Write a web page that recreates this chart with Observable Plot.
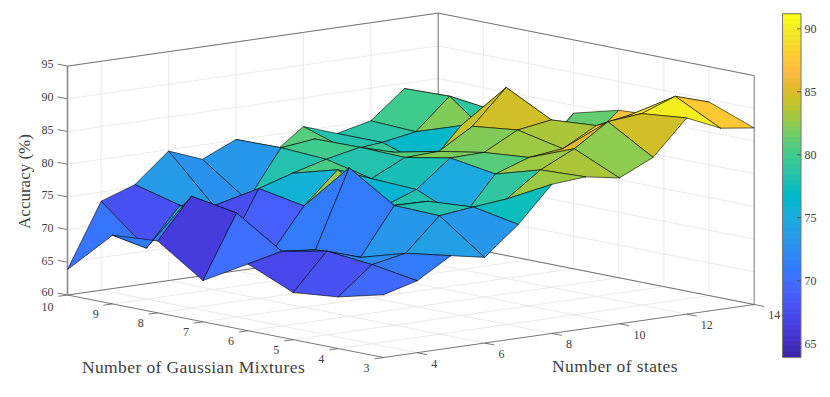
<!DOCTYPE html>
<html>
<head>
<meta charset="utf-8">
<style>
html,body{margin:0;padding:0;background:#fff;overflow:hidden}
svg{display:block}
.lab text,text.lab,.lab{letter-spacing:.4px}
</style>
<script src="https://cdn.jsdelivr.net/npm/d3@7"></script>
<script src="https://cdn.jsdelivr.net/npm/@observablehq/plot@0.6"></script>
</head>
<body>
<div id="chart"></div>
<script>
// Accuracy (%): one array per number of Gaussian mixtures, one value per state count.
const states = [3,4,5,6,7,8,9,10,11,12,13,14];
const accG10 = [63.9,73.6,75.4,79.8,77.8,80.1,76.8,80.6,78.8,80.0,84.2,80.1];
const accG9  = [70.5,67.8,73.6,72.8,72.9,80.2,80.8,78.3,78.8,79.7,84.4,82.0];
const accG8  = [71.0,77.1,67.5,76.8,78.4,79.8,80.9,79.4,76.5,82.0,79.0,74.0];
const accG7  = [66.3,75.9,68.8,75.5,80.3,78.2,80.7,80.9,84.0,89.2,78.5,83.8];
const accG6  = [70.2,71.4,70.9,82.7,76.0,77.9,82.0,82.1,84.8,85.6,81.0,85.6];
const accG5  = [67.2,72.8,71.1,78.3,78.2,74.9,80.9,82.7,83.3,86.1,87.0,86.0];
const accG4  = [67.9,72.1,73.1,78.1,78.7,79.2,82.9,85.4,88.8,89.3,91.2,89.6];
const accG3  = [69.6,71.0,74.1,73.1,77.4,82.8,83.2,82.3,84.7,90.0,87.7,87.0];
const mixtures = [3,4,5,6,7,8,9,10];
const accByMixture = [accG3,accG4,accG5,accG6,accG7,accG8,accG9,accG10];

const zTicks = [60,65,70,75,80,85,90,95];
const stateTicks = [4,6,8,10,12,14];
const mixtureTicks = [3,4,5,6,7,8,9,10];
const barTicks = [65,70,75,80,85,90];
const colorDomain = [63.9,91.2];
const parula = [[.2422,.1504,.6603],[.2504,.165,.7076],[.2578,.1818,.7511],[.2647,.1978,.7952],[.2706,.2147,.8364],[.2751,.2342,.871],[.2783,.2559,.8991],[.2803,.2782,.9221],[.2813,.3006,.9414],[.281,.3228,.9579],[.2795,.3447,.9717],[.276,.3667,.9829],[.2699,.3892,.9906],[.2602,.4123,.9952],[.244,.4358,.9988],[.2206,.4603,.9973],[.1963,.4847,.9892],[.1834,.5074,.9798],[.1786,.5289,.9682],[.1764,.5499,.952],[.1687,.5703,.9359],[.154,.5902,.9218],[.146,.6091,.9079],[.138,.6276,.8973],[.1248,.6459,.8883],[.1113,.6635,.8763],[.0952,.6798,.8598],[.0689,.6948,.8394],[.0297,.7082,.8163],[.0036,.7203,.7917],[.0067,.7312,.766],[.0433,.7411,.7394],[.0964,.75,.712],[.1408,.7584,.6842],[.1717,.767,.6554],[.1938,.7758,.6251],[.2161,.7843,.5923],[.247,.7918,.5567],[.2906,.7973,.5188],[.3406,.8008,.4789],[.3909,.8029,.4354],[.4456,.8024,.3909],[.5044,.7993,.348],[.5616,.7942,.3045],[.6174,.7876,.2612],[.672,.7793,.2227],[.7242,.7698,.191],[.7738,.7598,.1646],[.8203,.7498,.1535],[.8634,.7406,.1596],[.9035,.733,.1774],[.9393,.7288,.21],[.9728,.7298,.2394],[.9956,.7434,.2371],[.997,.7659,.2199],[.9952,.7893,.2028],[.9892,.8136,.1885],[.9786,.8386,.1766],[.9676,.8639,.1643],[.961,.889,.1537],[.9597,.9135,.1423],[.9628,.9373,.1265],[.9691,.9606,.1064],[.9769,.9839,.0805]]
  .map(([r,g,b]) => d3.rgb(r*255,g*255,b*255).formatHex());
const colorAt = t => parula[Math.max(0,Math.min(63,Math.floor(t*64)))];

// Orthographic view of the 3-D box
const sMin=3,sMax=14,gMin=3,gMax=10,zMin=60,zMax=95;
const px=(s,g)=>67+33.7*(s-3)+45.14*(10-g);
const py=(s,g,z)=>294.5-4.818*(s-3)+8.93*(10-g)-(z-60)*6.54;
const P=(s,g,z)=>({x:px(s,g),y:py(s,g,z)});
const seg=(a,b)=>({x1:a.x,y1:a.y,x2:b.x,y2:b.y});

// Faces back to front, coloured by their lowest-index corner
const acc=(si,gi)=>accByMixture[gi][si];
const faces=[];
for(let si=states.length-2;si>=0;si--){
  for(let gi=mixtures.length-2;gi>=0;gi--){
    const id=si+"-"+gi, c=acc(si,gi);
    [[si,gi],[si+1,gi],[si+1,gi+1],[si,gi+1],[si,gi]].forEach(([a,b])=>{
      faces.push({...P(states[a],mixtures[b],acc(a,b)),id,c});
    });
  }
}

// Grid lines
const grid=[];
zTicks.forEach(z=>{
  grid.push(seg(P(sMin,gMax,z),P(sMax,gMax,z)));
  grid.push(seg(P(sMax,gMax,z),P(sMax,gMin,z)));
});
stateTicks.forEach(s=>{
  grid.push(seg(P(s,gMax,zMin),P(s,gMax,zMax)));
  grid.push(seg(P(s,gMax,zMin),P(s,gMin,zMin)));
});
mixtureTicks.slice(1,-1).forEach(g=>{
  grid.push(seg(P(sMax,g,zMin),P(sMax,g,zMax)));
  grid.push(seg(P(sMin,g,zMin),P(sMax,g,zMin)));
});

// Box and ticks
const box=[
  seg(P(sMin,gMax,zMin),P(sMin,gMin,zMin)),
  seg(P(sMin,gMin,zMin),P(sMax,gMin,zMin)),
  seg(P(sMin,gMax,zMin),P(sMax,gMax,zMin)),
  seg(P(sMax,gMax,zMin),P(sMax,gMin,zMin)),
  seg(P(sMax,gMax,zMin),P(sMax,gMax,zMax)),
  seg(P(sMax,gMin,zMin),P(sMax,gMin,zMax)),
  seg(P(sMin,gMax,zMax),P(sMax,gMax,zMax)),
  seg(P(sMax,gMax,zMax),P(sMax,gMin,zMax)),
  ...zTicks.map(z=>seg(P(sMin,gMax,z),P(sMin,gMax+0.22,z))),
  ...stateTicks.map(s=>seg(P(s,gMin,zMin),P(s,gMin-0.22,zMin))),
  ...mixtureTicks.map(g=>seg(P(sMin,g,zMin),P(sMin-0.27,g,zMin)))
];
const leftAxis=[seg(P(sMin,gMax,zMin),P(sMin,gMax,zMax))];

const zLabels=zTicks.map(z=>{const p=P(sMin,gMax,z);return {x:p.x-14,y:p.y-(z==60?2.5:1.5),t:String(z)};});
const floorLabels=[
  ...stateTicks.map(s=>{const p=P(s,gMin,zMin);return {x:p.x+(s>=10?20:17),y:p.y+11,t:String(s)};}),
  ...mixtureTicks.map(g=>{const p=P(sMin,g,zMin);return {x:p.x-(g==10?20:17),y:p.y+(g==10?12:10.4),t:String(g)};})
];

// Colour bar
const barY=v=>28.3+(90-v)*12.6, barL=782, barR=800.5;
const [cLo,cHi]=colorDomain;
const barCells=d3.range(64).map(i=>({
  v1:cLo+(cHi-cLo)*i/64, v2:cLo+(cHi-cLo)*(i+1)/64, c:cLo+(cHi-cLo)*(i+.5)/64
}));
const barFrame=[
  {x1:barL,y1:barY(cHi),x2:barR,y2:barY(cHi)},{x1:barL,y1:barY(cLo),x2:barR,y2:barY(cLo)},
  {x1:barL,y1:barY(cHi),x2:barL,y2:barY(cLo)},{x1:barR,y1:barY(cHi),x2:barR,y2:barY(cLo)}
];
const barTickSegs=barTicks.map(v=>({x1:barR-4,y1:barY(v),x2:barR,y2:barY(v)}));

const serif='"Liberation Serif", serif', ink="#404040";
const plot=Plot.plot({
  width:830,height:397,margin:0,
  style:{background:"#fff",fontFamily:serif},
  x:{domain:[0,830],range:[0,830],axis:null},
  y:{domain:[0,397],range:[0,397],axis:null},
  color:{type:"linear",domain:colorDomain,interpolate:colorAt},
  marks:[
    Plot.link(grid,{x1:"x1",y1:"y1",x2:"x2",y2:"y2",stroke:"#e4e4e4",strokeWidth:0.8}),
    Plot.link(box,{x1:"x1",y1:"y1",x2:"x2",y2:"y2",stroke:"#555",strokeWidth:0.8}),
    Plot.link(leftAxis,{x1:"x1",y1:"y1",x2:"x2",y2:"y2",stroke:"#8a8a8a",strokeWidth:1.6}),
    Plot.line(faces,{x:"x",y:"y",z:"id",fill:"c",stroke:"#000",strokeWidth:0.7,strokeOpacity:0.85,strokeLinejoin:"round"}),
    Plot.text(zLabels,{x:"x",y:"y",text:"t",textAnchor:"end",fontSize:12,fill:ink}),
    Plot.text(floorLabels,{x:"x",y:"y",text:"t",fontSize:12,fill:ink}),
    Plot.text(["Accuracy (%)"],{x:()=>24,y:()=>181,rotate:-90,fontSize:17,fill:ink}),
    Plot.text(["Number of Gaussian Mixtures"],{x:()=>193,y:()=>367,fontSize:17.5,fill:ink,className:"lab"}),
    Plot.text(["Number of states"],{x:()=>614.5,y:()=>366,fontSize:17.5,fill:ink,className:"lab"}),
    Plot.rect(barCells,{x1:()=>barL,x2:()=>barR,y1:d=>barY(d.v1),y2:d=>barY(d.v2),fill:"c",shapeRendering:"crispEdges"}),
    Plot.link(barFrame,{x1:"x1",y1:"y1",x2:"x2",y2:"y2",stroke:"#777",strokeWidth:1}),
    Plot.link(barTickSegs,{x1:"x1",y1:"y1",x2:"x2",y2:"y2",stroke:"#444",strokeWidth:0.8}),
    Plot.text(barTicks,{x:()=>804,y:d=>barY(d),text:d=>String(d),textAnchor:"start",fontSize:12,fill:ink})
  ]
});
document.getElementById("chart").appendChild(plot);
</script>
</body>
</html>
